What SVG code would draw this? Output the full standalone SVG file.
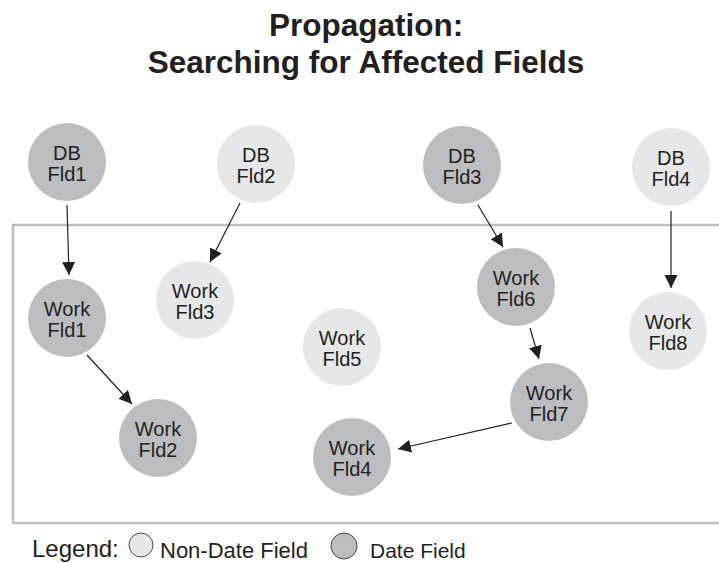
<svg xmlns="http://www.w3.org/2000/svg" width="719" height="563" viewBox="0 0 719 563">
<style>
.t{font-family:"Liberation Sans",Arial,sans-serif;fill:#231f20}
.title{font-size:31.5px;font-weight:bold;text-anchor:middle}
.nt{font-size:20px;text-anchor:middle}
.dark{fill:#bcbdc0}
.light{fill:#e6e7e8}
.conn line{stroke:#231f20;stroke-width:1.2;marker-end:url(#ah)}
</style>
<defs>
<marker id="ah" markerUnits="userSpaceOnUse" markerWidth="14" markerHeight="14" refX="13" refY="6.5" orient="auto">
<path d="M0,0 L13,6.5 L0,13 z" fill="#231f20"/>
</marker>
</defs>
<rect width="719" height="563" fill="#ffffff"/>
<g id="title">
<text class="t title" x="366" y="36">Propagation:</text>
<text class="t title" x="366" y="73">Searching for Affected Fields</text>
</g>
<rect id="workarea" x="13" y="225" width="720" height="298" fill="none" stroke="#bcbec0" stroke-width="2.5"/>
<g id="connectors" class="conn">
<line x1="67" y1="205" x2="69" y2="275"/>
<line x1="240" y1="203" x2="210" y2="262"/>
<line x1="478" y1="205" x2="503" y2="247"/>
<line x1="671" y1="211" x2="671" y2="288"/>
<line x1="530" y1="328" x2="539" y2="359"/>
<line x1="87" y1="355" x2="132" y2="404"/>
<line x1="512" y1="423" x2="398" y2="449"/>
</g>
<g id="db-fld1"><circle class="dark" cx="67" cy="162" r="39"/><text class="t nt" x="67" y="160">DB</text><text class="t nt" x="67" y="181">Fld1</text></g>
<g id="db-fld2"><circle class="light" cx="256" cy="164" r="39"/><text class="t nt" x="256" y="162">DB</text><text class="t nt" x="256" y="183">Fld2</text></g>
<g id="db-fld3"><circle class="dark" cx="462" cy="165" r="39"/><text class="t nt" x="462" y="163">DB</text><text class="t nt" x="462" y="184">Fld3</text></g>
<g id="db-fld4"><circle class="light" cx="671" cy="167" r="39"/><text class="t nt" x="671" y="165">DB</text><text class="t nt" x="671" y="186">Fld4</text></g>
<g id="work-fld1"><circle class="dark" cx="67" cy="318" r="39"/><text class="t nt" x="67" y="316">Work</text><text class="t nt" x="67" y="337">Fld1</text></g>
<g id="work-fld3"><circle class="light" cx="195" cy="300" r="39"/><text class="t nt" x="195" y="298">Work</text><text class="t nt" x="195" y="319">Fld3</text></g>
<g id="work-fld5"><circle class="light" cx="342" cy="347" r="39"/><text class="t nt" x="342" y="345">Work</text><text class="t nt" x="342" y="366">Fld5</text></g>
<g id="work-fld6"><circle class="dark" cx="516" cy="287" r="39"/><text class="t nt" x="516" y="285">Work</text><text class="t nt" x="516" y="306">Fld6</text></g>
<g id="work-fld8"><circle class="light" cx="668" cy="331" r="39"/><text class="t nt" x="668" y="329">Work</text><text class="t nt" x="668" y="350">Fld8</text></g>
<g id="work-fld2"><circle class="dark" cx="158" cy="438" r="39"/><text class="t nt" x="158" y="436">Work</text><text class="t nt" x="158" y="457">Fld2</text></g>
<g id="work-fld7"><circle class="dark" cx="549" cy="402" r="39"/><text class="t nt" x="549" y="400">Work</text><text class="t nt" x="549" y="421">Fld7</text></g>
<g id="work-fld4"><circle class="dark" cx="352" cy="457" r="39"/><text class="t nt" x="352" y="455">Work</text><text class="t nt" x="352" y="476">Fld4</text></g>
<g id="legend">
<text class="t" x="32" y="557" font-size="24">Legend:</text>
<circle class="light" cx="141" cy="545" r="12" stroke="#231f20" stroke-width="0.8"/>
<text class="t" x="160" y="558" font-size="22">Non-Date Field</text>
<circle class="dark" cx="344" cy="546" r="13" stroke="#231f20" stroke-width="0.8"/>
<text class="t" x="370" y="558" font-size="21">Date Field</text>
</g>
</svg>
